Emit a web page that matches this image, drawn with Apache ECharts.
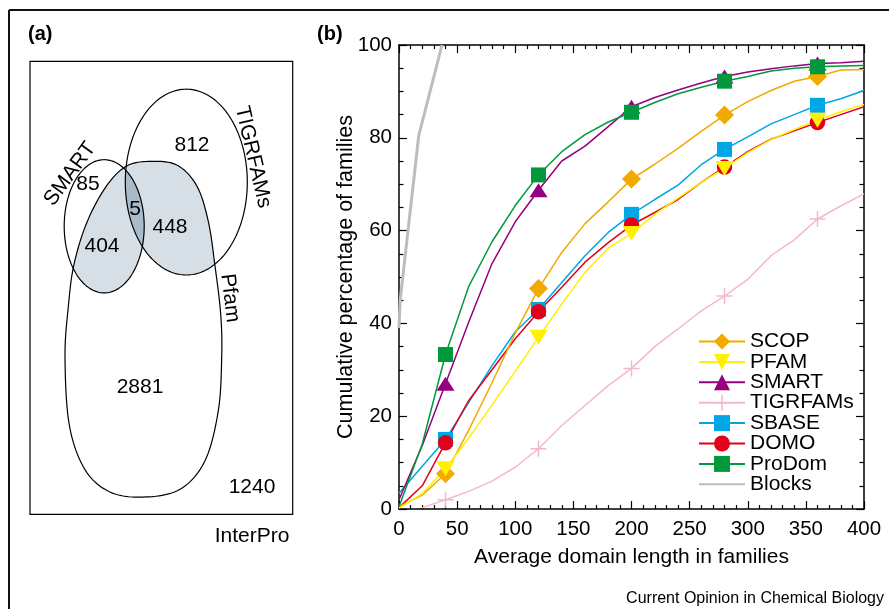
<!DOCTYPE html>
<html>
<head>
<meta charset="utf-8">
<script src="https://cdn.jsdelivr.net/npm/echarts@6/dist/echarts.min.js"></script>
<style>
html,body{margin:0;padding:0;background:#fff;}
#chart{width:889px;height:609px;}
</style>
</head>
<body>
<div id="chart"></div>
<script>
// ---------- DATA ----------
const xs = [0,20,40,60,80,100,120,140,160,180,200,220,240,260,280,300,320,340,360,380,400];
const markerXs = [40,120,200,280,360];
const scop     = [0.5,3,7.6,17,27.2,37.9,47.5,55.3,61.5,66.2,71.1,74.3,77.7,81.4,84.9,87.8,90.2,92.2,93.2,94.6,94.7];
const pfam     = [0.2,3.3,8.7,15.3,22.4,29.7,37,44.2,51,56.2,59.4,63.5,67,70.4,73.4,76.8,79.6,81.8,83.8,85.6,87.2];
const smart    = [2,13.7,27,40.3,52.9,61.9,68.7,75,78.2,82.4,86.7,88.7,90.3,91.8,93.2,94.2,94.9,95.5,96,96.2,96.5];
const tigrfams = [null,0.3,2,3.8,6,9,13,18,22.3,26.6,30.3,35,38.8,42.7,45.9,49.5,54.6,58,62.5,65.3,67.9];
const sbase    = [3.4,9.2,15,23,30.9,38.2,43,48.8,54.6,59.6,63.5,66.7,69.8,74.2,77.5,80.2,83,85,87,88.4,90.2];
const domo     = [0.3,5,14.3,23.4,30,36.7,42.5,47.8,53.2,57.4,61.2,63.9,66.7,70.4,73.7,77,79.7,81.5,83.3,85,86.7];
const prodom   = [0.5,14,33.3,48,57.6,65.4,72,77,80.7,83.4,85.5,87.6,89.5,90.9,92.2,93.2,94.4,95,95.3,95.5,95.6];
const blocksX  = [0,1,17,37];
const blocksY  = [39,45,80.5,100];
const legendOrder = ['SCOP','PFAM','SMART','TIGRFAMs','SBASE','DOMO','ProDom','Blocks'];
const xTicks = {min:0, max:400, interval:50};
const yTicks = {min:0, max:100, interval:20};
// Venn numbers
const vennNumbers = {smartOnly:'85', tigrOnly:'812', smartPfam:'404', tigrPfam:'448', triple:'5', pfamOnly:'2881', interproOnly:'1240'};

// ---------- HELPERS ----------
const FONT = 'Liberation Sans, Arial, Helvetica, sans-serif';
function buildData(ys){
  return xs.map((x,i)=>{
    if (ys[i]===null) return {value:[x,'-'], symbol:'none'};
    return markerXs.indexOf(x) >= 0 ? {value:[x,ys[i]]} : {value:[x,ys[i]], symbol:'none'};
  });
}
function mk(name, ys, color, symbol, size, rotate, extra){
  return Object.assign({
    type:'line', name:name, data:buildData(ys),
    symbol:symbol, symbolSize:size, symbolRotate:rotate||0,
    showSymbol:true, showAllSymbol:true,
    lineStyle:{color:color, width:1.5},
    itemStyle:{color:color},
    emphasis:{disabled:true},
    animation:false
  }, extra||{});
}
const plus = 'path://M7.25,0h1.5v7.25h7.25v1.5h-7.25v7.25h-1.5v-7.25h-7.25v-1.5h7.25z';

const series = [
  mk('TIGRFAMs', tigrfams, '#f5b8cb', plus, 16, 0),
  mk('SBASE', sbase, '#00a7e6', 'rect', 15, 0),
  mk('DOMO', domo, '#e2001a', 'circle', 15.5, 0),
  mk('SCOP', scop, '#f2a900', 'diamond', 19, 0),
  mk('PFAM', pfam, '#fff000', 'triangle', [18,15], 180),
  mk('SMART', smart, '#960080', 'triangle', [18,14], 0),
  mk('ProDom', prodom, '#009a3d', 'rect', 15, 0),
  {type:'line', name:'Blocks', data:blocksX.map((x,i)=>[x,blocksY[i]]), symbol:'none',
   lineStyle:{color:'#bdbdbd', width:3}, itemStyle:{color:'#bdbdbd'}, emphasis:{disabled:true}, animation:false}
];

// ---------- VENN GEOMETRY (layout only) ----------
function ellipsePts(cx,cy,rx,ry,rotDeg,n){
  const r = rotDeg*Math.PI/180, pts=[];
  for(let i=0;i<n;i++){
    const t = i/n*2*Math.PI;
    const ex = rx*Math.cos(t), ey = ry*Math.sin(t);
    pts.push([cx+ex*Math.cos(r)-ey*Math.sin(r), cy+ex*Math.sin(r)+ey*Math.cos(r)]);
  }
  return pts;
}
function catmullClosed(pts,n){
  const N=pts.length, out=[];
  for(let i=0;i<N;i++){
    const p0=pts[(i-1+N)%N],p1=pts[i],p2=pts[(i+1)%N],p3=pts[(i+2)%N];
    for(let k=0;k<n;k++){
      const t=k/n,t2=t*t,t3=t2*t;
      const f=(a,b,c,d)=>0.5*((2*b)+(-a+c)*t+(2*a-5*b+4*c-d)*t2+(-a+3*b-3*c+d)*t3);
      out.push([f(p0[0],p1[0],p2[0],p3[0]), f(p0[1],p1[1],p2[1],p3[1])]);
    }
  }
  return out;
}
function area(p){let s=0;for(let i=0;i<p.length;i++){const a=p[i],b=p[(i+1)%p.length];s+=a[0]*b[1]-b[0]*a[1];}return s/2;}
function clipPoly(subject, clip){
  const sg = area(clip)>0?1:-1;
  let out = subject;
  for(let i=0;i<clip.length;i++){
    const a=clip[i], b=clip[(i+1)%clip.length];
    const inp=out; out=[];
    if(!inp.length) break;
    const ex=b[0]-a[0], ey=b[1]-a[1];
    const inside=p=>sg*(ex*(p[1]-a[1])-ey*(p[0]-a[0]))>=0;
    const inter=(p,q)=>{const dx=q[0]-p[0],dy=q[1]-p[1];
      const t=(ex*(a[1]-p[1])-ey*(a[0]-p[0]))/(ex*dy-ey*dx); return [p[0]+t*dx,p[1]+t*dy];};
    for(let j=0;j<inp.length;j++){
      const cur=inp[j], prev=inp[(j+inp.length-1)%inp.length];
      const ci=inside(cur), pi=inside(prev);
      if(ci){ if(!pi) out.push(inter(prev,cur)); out.push(cur); }
      else if(pi) out.push(inter(prev,cur));
    }
  }
  return out;
}
const smartShape = ellipsePts(104.2,226.3,40,66.6,0,180);
const tigrShape  = ellipsePts(186.3,182.1,61,92.9,0,180);
const pfamShape  = catmullClosed([
  [150,161.4],[176.7,165],[196.7,185.7],[208.3,221.4],[215,266],[220.7,314.3],[221.7,357],
  [218.3,410.7],[205,460.7],[180,489.3],[143.3,497.1],[110,492],[85,469.6],[69.3,425],
  [65,357],[68.3,307],[74,264.3],[87.3,221.4],[106.7,185.7],[126.7,166]
],12);
const smartPfam = clipPoly(pfamShape, smartShape);
const tigrPfam  = clipPoly(pfamShape, tigrShape);
const triple    = clipPoly(smartPfam, tigrShape);

function txt(t,x,y,size,opts){
  opts=opts||{};
  return {type:'text', x:x, y:y, rotation:(opts.rot||0)*Math.PI/180, z:20,
    style:{text:t, font:(opts.bold?'bold ':'')+size+'px '+FONT, fill:'#000',
      align:opts.align||'center', verticalAlign:'middle',
      textAlign:opts.align||'center', textVerticalAlign:'middle'}};
}
const graphics = [
  {type:'line', z:30, shape:{x1:9,y1:10,x2:889,y2:10}, style:{stroke:'#111',lineWidth:2}},
  {type:'line', z:30, shape:{x1:9,y1:10,x2:9,y2:609}, style:{stroke:'#111',lineWidth:2}},
  {type:'rect', z:5, shape:{x:30,y:61.4,width:262.7,height:452.9}, style:{fill:'#fff',stroke:'#000',lineWidth:1.2}},
  {type:'polygon', z:6, shape:{points:smartPfam}, style:{fill:'#d7dfe6',stroke:null}},
  {type:'polygon', z:6, shape:{points:tigrPfam}, style:{fill:'#d7dfe6',stroke:null}},
  {type:'polygon', z:7, shape:{points:triple}, style:{fill:'#a9bbc8',stroke:null}},
  {type:'polygon', z:8, shape:{points:smartShape}, style:{fill:null,stroke:'#000',lineWidth:1.2}},
  {type:'polygon', z:8, shape:{points:tigrShape}, style:{fill:null,stroke:'#000',lineWidth:1.2}},
  {type:'polygon', z:8, shape:{points:pfamShape}, style:{fill:null,stroke:'#000',lineWidth:1.2}},
  txt('(a)',28,34,20,{bold:true,align:'left'}),
  txt('(b)',317,34,20,{bold:true,align:'left'}),
  txt('SMART',70,174,21,{rot:54}),
  txt('TIGRFAMs',253,157,21,{rot:-77}),
  txt('Pfam',230,298,21,{rot:-83}),
  txt(vennNumbers.smartOnly,88,184,21),
  txt(vennNumbers.tigrOnly,192,145,21),
  txt(vennNumbers.smartPfam,102,246,21),
  txt(vennNumbers.tigrPfam,170,227,21),
  txt(vennNumbers.triple,135,209,21),
  txt(vennNumbers.pfamOnly,140,387,21),
  txt(vennNumbers.interproOnly,252,487,21),
  txt('InterPro',252,536,21),
  txt('Current Opinion in Chemical Biology',884,599,16,{align:'right'})
];

// ---------- AXES ----------
function xAxisCfg(pos, labels){
  return {type:'value', position:pos, min:xTicks.min, max:xTicks.max, interval:xTicks.interval,
    axisLine:{show:true, onZero:false, lineStyle:{color:'#000', width:1.5}},
    axisTick:{show:true, inside:true, length:8, lineStyle:{color:'#000', width:1.2}},
    minorTick:{show:true, splitNumber:5, length:4, lineStyle:{color:'#000', width:1.2}},
    splitLine:{show:false}, minorSplitLine:{show:false},
    axisLabel:{show:labels, fontSize:20.5, color:'#000', margin:10, fontFamily:FONT},
    name: labels ? 'Average domain length in families' : '', nameLocation:'middle', nameGap:38,
    nameTextStyle:{fontSize:21, color:'#000', fontFamily:FONT}};
}
function yAxisCfg(pos, labels){
  return {type:'value', position:pos, min:yTicks.min, max:yTicks.max, interval:yTicks.interval,
    axisLine:{show:true, onZero:false, lineStyle:{color:'#000', width:1.5}},
    axisTick:{show:true, inside:true, length:8, lineStyle:{color:'#000', width:1.2}},
    minorTick:{show:true, splitNumber:4, length:4.5, lineStyle:{color:'#000', width:1.2}},
    splitLine:{show:false}, minorSplitLine:{show:false},
    axisLabel:{show:labels, fontSize:20.5, color:'#000', margin:7, fontFamily:FONT},
    name: labels ? 'Cumulative percentage of families' : '', nameLocation:'middle', nameGap:42,
    nameMoveOverlap:false,
    nameTextStyle:{fontSize:21.5, color:'#000', fontFamily:FONT}};
}

const chart = echarts.init(document.getElementById('chart'), null, {renderer:'canvas'});
chart.setOption({
  backgroundColor:'#fff',
  animation:false,
  textStyle:{fontFamily:FONT, color:'#000'},
  grid:{left:399, top:45, width:465, height:464, containLabel:false},
  xAxis:[xAxisCfg('bottom',true), xAxisCfg('top',false)],
  yAxis:[yAxisCfg('left',true), yAxisCfg('right',false)],
  legend:{
    orient:'vertical', left:698, top:331, padding:0,
    itemWidth:46, itemHeight:20, itemGap:-0.6,
    textStyle:{fontSize:21, color:'#000', fontFamily:FONT},
    data: legendOrder.map(n => n==='Blocks' ? {name:n, itemStyle:{color:'rgba(0,0,0,0)', borderColor:'rgba(0,0,0,0)'}} : {name:n}),
    selectedMode:false
  },
  series: series,
  graphic: graphics
});
</script>
</body>
</html>
